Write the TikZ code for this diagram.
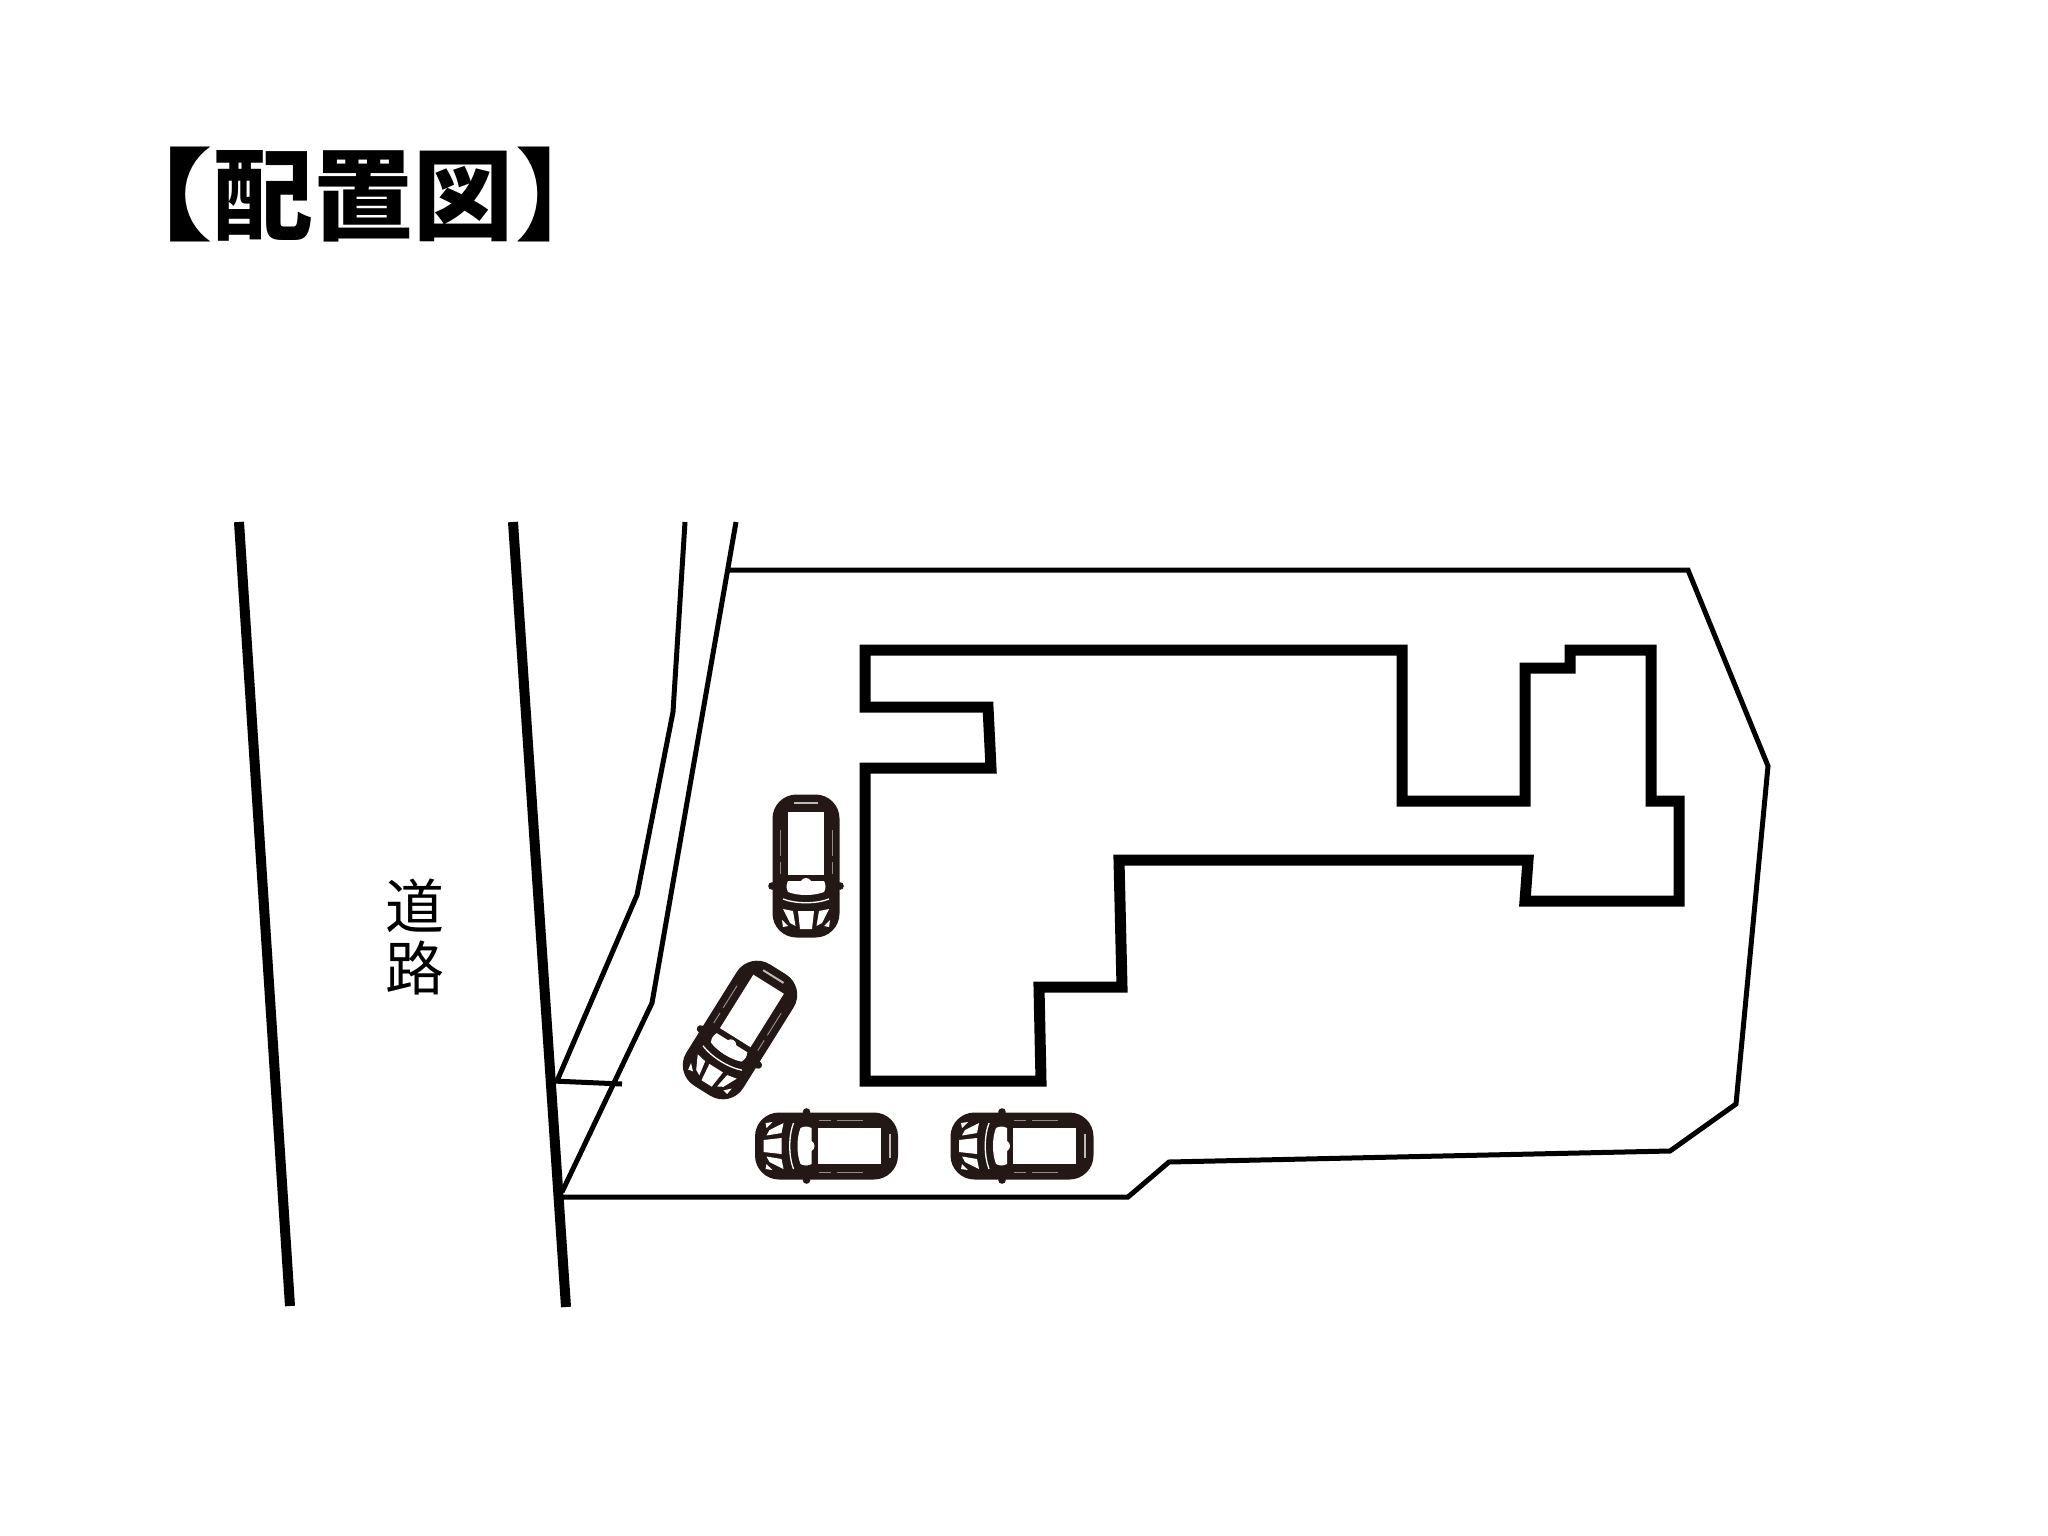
\documentclass[tikz,border=0pt]{standalone}
\usepackage{fontspec}
\usepackage{graphicx}
\newfontfamily\cjk{Noto Sans CJK JP}
\definecolor{carink}{HTML}{231815}
\tikzset{
  roadline/.style={line width=10pt,black},
  lotline/.style={line width=5pt,black,line join=miter},
  houseline/.style={line width=11pt,black,line join=miter},
  titletext/.style={font=\cjk\bfseries\fontsize{100}{100}\selectfont,inner sep=0pt},
  roadtext/.style={font=\cjk\fontsize{59}{62}\selectfont,align=center,inner sep=0pt},
  carwhite/.style={fill=white,draw=none},
  carslit/.style={draw=white!50!carink,line width=1pt},
  pics/carshape/.style={code={
    % mirrors
    \fill[carink] (-34,20) circle[radius=3.8] (34,20) circle[radius=3.8];
    % body
    \fill[carink,rounded corners=24pt] (-33.5,-71.5) rectangle (33.5,71.5);
    % roof
    \fill[carwhite] (-18,-54) rectangle (18,9);
    % rear slit
    \fill[white!70!carink] (-12,-64) rectangle (12,-62);
    % side slits
    \draw[carslit] (-26,-36) -- (-26,-10) (-26,-4) -- (-26,8);
    \draw[carslit] (26,-36) -- (26,-10) (26,-4) -- (26,8);
    % windscreen
    \fill[carwhite] (-18,15) -- (-5,15) .. controls (-3,11) and (3,11) .. (5,15) -- (18,15)
      .. controls (20,19) and (20,22) .. (18,26) .. controls (8,30) and (-8,30) .. (-18,26)
      .. controls (-20,22) and (-20,19) .. (-18,15) -- cycle;
    % bonnet crease
    \draw[white,line width=1.3pt] (-23,33) .. controls (-10,38) and (10,38) .. (23,33);
    % bonnet panels
    \fill[carwhite] (-8,45) -- (8,45) -- (6,63) -- (-6,63) -- cycle;
    \fill[carwhite] (-23,43) -- (-13,45) -- (-10.5,60) -- (-16,57) -- cycle;
    \fill[carwhite] (23,43) -- (13,45) -- (10.5,60) -- (16,57) -- cycle;
    \fill[carwhite] (-24,54) -- (-18,60) -- (-23,61) -- cycle;
    \fill[carwhite] (24,54) -- (18,60) -- (23,61) -- cycle;
  }}
}
\begin{document}
\begin{tikzpicture}[x=1pt,y=-1pt]
\useasboundingbox (0,0) rectangle (2048,1536);
\fill[white] (0,0) rectangle (2048,1536);

\node[titletext] (title) at (352,195) {\scalebox{1.25}[1]{【}配置図\kern2pt 】};
\node[roadtext] (road) at (415,937) {道\\路};

% road edges
\draw[roadline] (239,522) -- (290,1306);
\draw[roadline] (513,522) -- (566,1307);
% strip beside the road
\draw[lotline] (685,522) -- (673,712) -- (637,895) -- (557,1081);
\draw[lotline] (736,522) -- (652,1003) -- (562,1192);
\draw[lotline] (553,1081) -- (622,1084);
% lot
\draw[lotline] (728,570) -- (1688,570) -- (1768,766) -- (1736,1104) -- (1670,1151)
  -- (1169,1162) -- (1128,1197) -- (562,1197);
% house
\draw[houseline] (865,650) -- (865,707) -- (988,707) -- (991,768) -- (865,768)
  -- (865,1081) -- (1041,1081) -- (1039,987) -- (1122,987) -- (1119,860) -- (1528,860)
  -- (1525,901) -- (1679,901) -- (1679,801) -- (1651,801) -- (1651,650) -- (1570,650)
  -- (1570,668) -- (1525,668) -- (1525,801) -- (1402,801) -- (1402,650) -- cycle;

% cars
\pic at (806,866) {carshape};
\pic[rotate=-32] at (740,1030) {carshape};
\pic[rotate=-90] at (826.5,1146) {carshape};
\pic[rotate=-90] at (1022,1146) {carshape};
\end{tikzpicture}
\end{document}
